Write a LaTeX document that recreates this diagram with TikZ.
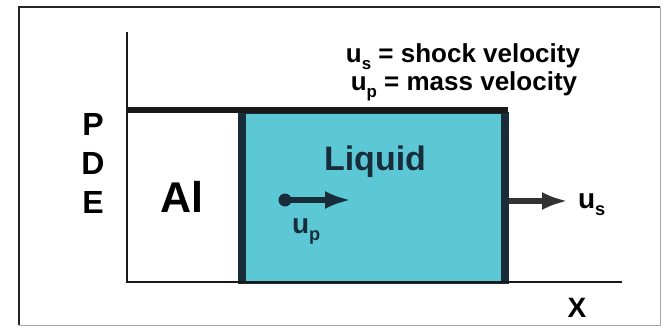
\documentclass[tikz,border=0pt]{standalone}
\usepackage{fontspec}
\setmainfont{Liberation Sans}
\usetikzlibrary{arrows.meta}
\definecolor{liq}{RGB}{92,200,214}
\definecolor{navy}{RGB}{24,44,58}
\newcommand{\sbx}[1]{\smash{\raisebox{-0.27em}{\scalebox{0.65}{#1}}}}
\newcommand{\fs}[1]{\fontsize{#1}{#1}\selectfont\bfseries}
\begin{document}
\begin{tikzpicture}[x=1pt,y=-1pt,
  lbl/.style={inner sep=0pt, outer sep=0pt},
  axisline/.style={line width=2.5pt, black!90},
  bigarrow/.style={line width=5.5pt, -{Latex[length=26pt,width=18pt]}}]
\useasboundingbox (0,0) rectangle (664,327);
\fill[white] (0,0) rectangle (664,327);
% frame
\draw[line width=2.5pt, black!85] (19,325) -- (19,7) -- (660,7);
\draw[line width=1pt, black!35] (660,7) -- (660,325) -- (19,325);
% liquid box
\fill[liq] (242,113) rectangle (505,283);
\draw[navy, line width=2pt] (242,113) rectangle (505,283);
\draw[navy, line width=8pt] (242,112) -- (242,284);
\draw[navy, line width=8pt] (505,112) -- (505,284);
\coordinate (boxE) at (509,201);
% axes
\draw[axisline] (127,32) -- (127,282) -- (622,282);
\draw[line width=5.5pt, black!90] (127,110) -- (508,110);
% legend
\node[lbl, anchor=base] (leg1) at (463,62) {\fs{26}u\sbx{s} = shock velocity};
\node[lbl, anchor=base] (leg2) at (464,90) {\fs{26}u\sbx{p} = mass velocity};
% PDE
\node[lbl, anchor=base] (P) at (93,135) {\fs{32}P};
\node[lbl, anchor=base] (D) at (93,174) {\fs{32}D};
\node[lbl, anchor=base] (E) at (93,213) {\fs{32}E};
% Al
\node[lbl, anchor=base] (al) at (182,212) {\fs{43}Al};
% Liquid
\node[lbl, anchor=base, text=navy] (liquid) at (375,170) {\fs{34}Liquid};
% particle arrow
\fill[navy] (285,200) circle [radius=6.5pt];
\coordinate (pdot) at (285,200);
\coordinate (ptip) at (351,200);
\draw[navy, bigarrow] (pdot) -- (ptip);
\node[lbl, anchor=base west, text=navy] (up) at (292,233) {\fs{28}u\sbx{p}};
% shock arrow
\coordinate (stip) at (568,201);
\draw[black!80, bigarrow] (boxE) -- (stip);
\node[lbl, anchor=base west] (us) at (578,208) {\fs{28}u\sbx{s}};
% X
\node[lbl, anchor=base] (X) at (577,317) {\fs{28}X};
\end{tikzpicture}
\end{document}
